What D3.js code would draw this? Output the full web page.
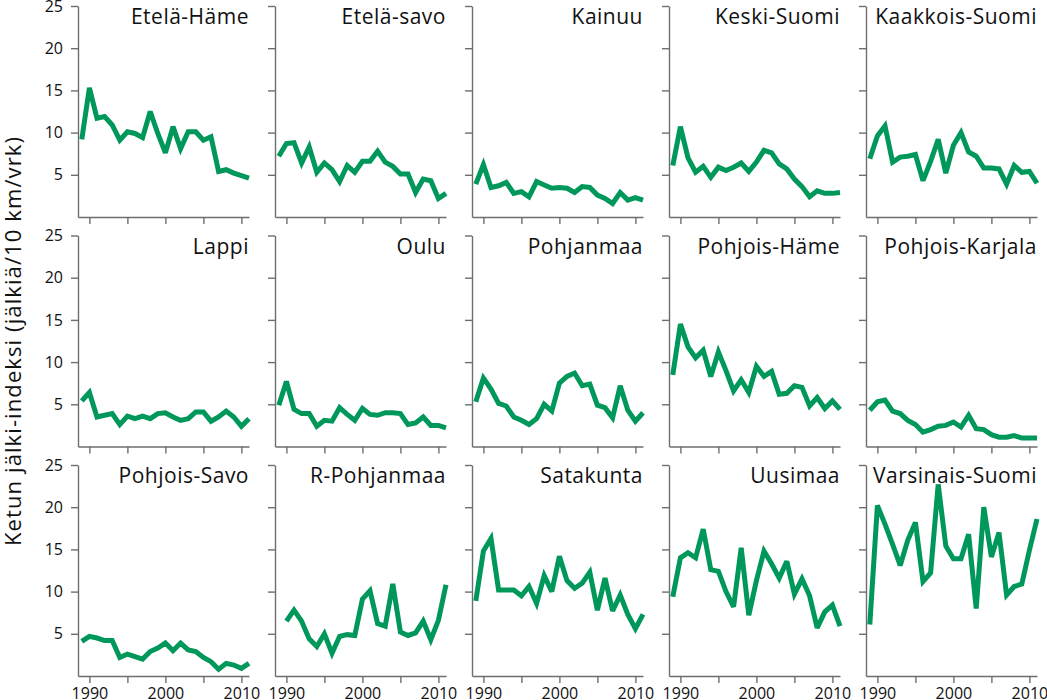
<!DOCTYPE html>
<html>
<head>
<meta charset="utf-8">
<script src="https://cdn.jsdelivr.net/npm/d3@7/dist/d3.min.js"></script>
<style>
  html, body { margin: 0; padding: 0; background: #fff; }
  svg text { font-family: "Open Sans", "Noto Sans", sans-serif; fill: #111; }
</style>
</head>
<body>
<svg id="chart" width="1047" height="700"></svg>
<script>
const years = [1989,1990,1991,1992,1993,1994,1995,1996,1997,1998,1999,2000,2001,2002,2003,2004,2005,2006,2007,2008,2009,2010,2011];
const regions = ["Etelä-Häme","Etelä-savo","Kainuu","Keski-Suomi","Kaakkois-Suomi",
                 "Lappi","Oulu","Pohjanmaa","Pohjois-Häme","Pohjois-Karjala",
                 "Pohjois-Savo","R-Pohjanmaa","Satakunta","Uusimaa","Varsinais-Suomi"];
const etelaHame     = [9.2,15.3,11.7,11.9,10.9,9.1,10.1,9.9,9.4,12.5,9.9,7.6,10.7,8.1,10.1,10.1,9.1,9.5,5.4,5.6,5.2,4.9,4.6];
const etelaSavo     = [7.2,8.7,8.8,6.4,8.3,5.3,6.4,5.6,4.2,6.1,5.3,6.6,6.6,7.8,6.5,6.0,5.1,5.1,2.9,4.5,4.3,2.2,2.8];
const kainuu        = [3.9,6.2,3.5,3.7,4.1,2.8,3.0,2.4,4.2,3.8,3.4,3.5,3.4,2.9,3.6,3.5,2.6,2.2,1.6,2.9,2.0,2.3,2.0];
const keskiSuomi    = [6.1,10.7,7.0,5.3,6.0,4.7,5.9,5.5,5.9,6.4,5.4,6.5,7.9,7.6,6.3,5.7,4.5,3.6,2.4,3.1,2.8,2.8,2.9];
const kaakkoisSuomi = [6.9,9.6,10.8,6.5,7.1,7.2,7.4,4.3,6.6,9.2,5.2,8.5,10.0,7.7,7.2,5.8,5.8,5.7,3.9,6.1,5.3,5.4,4.0];
const lappi         = [5.4,6.4,3.5,3.7,3.9,2.6,3.6,3.3,3.6,3.3,3.9,4.0,3.5,3.1,3.3,4.1,4.1,3.0,3.5,4.2,3.5,2.4,3.3];
const oulu          = [4.9,7.7,4.4,3.9,3.9,2.4,3.1,3.0,4.6,3.8,3.1,4.5,3.8,3.7,4.0,4.0,3.9,2.6,2.8,3.5,2.5,2.5,2.2];
const pohjanmaa     = [5.3,8.1,6.8,5.1,4.8,3.5,3.1,2.6,3.3,5.0,4.2,7.5,8.3,8.7,7.2,7.4,4.9,4.6,3.4,7.2,4.3,3.0,4.0];
const pohjoisHame   = [8.5,14.5,11.8,10.5,11.4,8.3,11.2,9.0,6.6,7.9,6.4,9.5,8.3,8.9,6.2,6.3,7.2,7.0,4.8,5.8,4.5,5.4,4.4];
const pohjoisKarjala= [4.3,5.3,5.5,4.2,3.9,3.1,2.6,1.7,2.0,2.4,2.5,2.9,2.3,3.7,2.1,2.0,1.4,1.1,1.1,1.3,1.0,1.0,1.0];
const pohjoisSavo   = [4.1,4.7,4.5,4.2,4.2,2.2,2.6,2.3,2.0,2.9,3.3,3.9,3.0,3.9,3.1,2.9,2.2,1.7,0.8,1.5,1.3,0.9,1.5];
const rPohjanmaa    = [null,6.5,7.8,6.5,4.4,3.5,5.0,2.7,4.7,4.9,4.8,9.1,10.1,6.2,5.9,10.9,5.2,4.8,5.1,6.5,4.3,6.6,10.8];
const satakunta     = [8.9,14.8,16.3,10.2,10.2,10.2,9.5,10.6,8.6,11.9,10.0,14.2,11.3,10.4,11.0,12.3,7.8,11.6,7.7,9.6,7.3,5.6,7.3];
const uusimaa       = [9.4,14.0,14.6,14.0,17.4,12.6,12.4,10.0,8.2,15.2,7.2,11.3,14.8,13.3,11.6,13.6,9.7,11.5,9.5,5.7,7.6,8.4,5.9];
const varsinaisSuomi= [6.1,20.2,18.0,15.6,13.1,16.1,18.2,11.2,12.2,22.7,15.4,13.9,13.9,16.8,8.0,20.0,14.1,17.0,9.6,10.6,10.9,14.9,18.6];
const seriesValues = [etelaHame,etelaSavo,kainuu,keskiSuomi,kaakkoisSuomi,
                      lappi,oulu,pohjanmaa,pohjoisHame,pohjoisKarjala,
                      pohjoisSavo,rPohjanmaa,satakunta,uusimaa,varsinaisSuomi];
const yTicks = [5,10,15,20,25];
const xTicks = [1990,1995,2000,2005,2010];
const xTickLabels = [1990,2000,2010];
const yTitle = "Ketun jälki-indeksi (jälkiä/10 km/vrk)";

const svg = d3.select("#chart");
const cols = 5;
const panelW = 171, panelH = 211;
const left0 = 78, top0 = 6, colStep = 197, rowStep = 229.5;

const x = d3.scaleLinear().domain([1988.5, 2011]).range([0, panelW]);
const y = d3.scaleLinear().domain([0, 25]).range([panelH, 0]);

const line = d3.line()
  .defined(d => d.v !== null)
  .x(d => x(d.year))
  .y(d => y(d.v));

regions.forEach((name, i) => {
  const col = i % cols, row = Math.floor(i / cols);
  const g = svg.append("g")
    .attr("transform", `translate(${left0 + col * colStep},${top0 + row * rowStep})`);

  const yAxis = d3.axisLeft(y).tickValues(yTicks).tickSize(7).tickSizeOuter(0).tickPadding(8);
  if (col !== 0) yAxis.tickFormat("");
  const ya = g.append("g").call(yAxis);

  const xAxis = d3.axisBottom(x).tickValues(xTicks).tickSize(7).tickSizeOuter(0).tickPadding(5)
    .tickFormat(d => (row === 2 && xTickLabels.includes(d)) ? d3.format("d")(d) : "");
  const xa = g.append("g").attr("transform", `translate(0,${panelH})`).call(xAxis);

  [ya, xa].forEach(a => {
    a.selectAll("path, line").attr("stroke", "#6e6e6e").attr("stroke-width", 1.4);
    a.selectAll("text").attr("font-size", 16).attr("fill", "#111")
      .style("font-family", '"Open Sans", sans-serif');
  });

  const data = years.map((yr, k) => ({ year: yr, v: seriesValues[i][k] }));
  g.append("path")
    .datum(data)
    .attr("fill", "none")
    .attr("stroke", "#00985a")
    .attr("stroke-width", 5)
    .attr("stroke-linejoin", "miter")
    .attr("stroke-miterlimit", 3)
    .attr("d", line);

  g.append("text")
    .attr("x", panelW)
    .attr("y", 18)
    .attr("text-anchor", "end")
    .attr("font-size", 21)
    .attr("letter-spacing", "0.5px")
    .text(name);
});

svg.append("text")
  .attr("transform", `translate(21,${top0 + (2 * rowStep + panelH) / 2}) rotate(-90)`)
  .attr("text-anchor", "middle")
  .attr("font-size", 22)
  .attr("letter-spacing", "1.1px")
  .text(yTitle);
</script>
</body>
</html>
